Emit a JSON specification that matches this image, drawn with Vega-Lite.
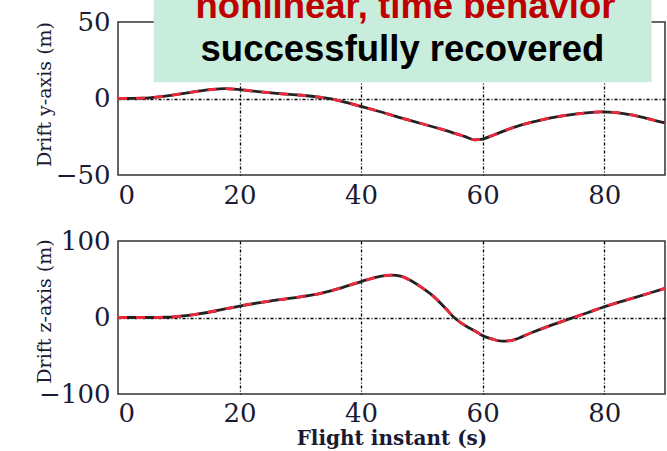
{
  "$schema": "https://vega.github.io/schema/vega-lite/v6.json",
  "background": "white",
  "padding": {"left": 34, "top": -13, "right": 2, "bottom": 0},
  "spacing": 66,
  "bounds": "flush",
  "datasets": {
    "ydrift": [
      {"t": 0, "v": 0}, {"t": 4, "v": 0.2}, {"t": 7, "v": 1.2}, {"t": 10, "v": 2.8}, {"t": 13, "v": 4.6},
      {"t": 15.5, "v": 5.9}, {"t": 17.5, "v": 6.4}, {"t": 20, "v": 5.8}, {"t": 23, "v": 4.5}, {"t": 27, "v": 3},
      {"t": 31, "v": 1.8}, {"t": 34, "v": 0.4}, {"t": 36, "v": -1}, {"t": 38, "v": -3}, {"t": 40, "v": -5.2},
      {"t": 43, "v": -8.5}, {"t": 46.4, "v": -12.5}, {"t": 50, "v": -16.5}, {"t": 54, "v": -21}, {"t": 57, "v": -24.8},
      {"t": 58.7, "v": -27}, {"t": 60, "v": -26.5}, {"t": 62, "v": -23.5}, {"t": 65, "v": -19}, {"t": 68.3, "v": -15.3},
      {"t": 71, "v": -12.8}, {"t": 74, "v": -10.8}, {"t": 77, "v": -9.4}, {"t": 79.5, "v": -8.7}, {"t": 82, "v": -9.2},
      {"t": 84.7, "v": -10.9}, {"t": 87, "v": -13}, {"t": 90, "v": -16}
    ],
    "zdrift": [
      {"t": 0, "v": 0}, {"t": 5, "v": 0}, {"t": 8, "v": 0.3}, {"t": 10.7, "v": 2}, {"t": 13, "v": 4.5},
      {"t": 16, "v": 8.5}, {"t": 20, "v": 15}, {"t": 25, "v": 21.5}, {"t": 30, "v": 27}, {"t": 33, "v": 31},
      {"t": 36, "v": 37}, {"t": 40, "v": 47}, {"t": 43, "v": 53.5}, {"t": 45, "v": 55.5}, {"t": 46.5, "v": 54},
      {"t": 48, "v": 49}, {"t": 50, "v": 39}, {"t": 52, "v": 27}, {"t": 54, "v": 11}, {"t": 55.3, "v": 0},
      {"t": 57, "v": -10}, {"t": 59, "v": -19}, {"t": 60, "v": -23.8}, {"t": 61.5, "v": -28}, {"t": 63.2, "v": -31},
      {"t": 65, "v": -29.5}, {"t": 68, "v": -20}, {"t": 71, "v": -11}, {"t": 74.4, "v": -1.5}, {"t": 77, "v": 5.5},
      {"t": 80, "v": 14}, {"t": 85, "v": 26}, {"t": 90, "v": 38}
    ],
    "box": [{"t": 5.87, "t2": 87.8, "v": 10.65, "v2": 72}],
    "notes": [
      {"t": 47.3, "v": 52.9, "label": "nonlinear, time behavior", "role": "highlight"},
      {"t": 46.8, "v": 24.2, "label": "successfully recovered", "role": "body"}
    ]
  },
  "config": {
    "view": {"stroke": "#333333", "strokeWidth": 1.5},
    "axis": {
      "labelFont": "DejaVu Serif", "labelFontSize": 26, "labelColor": "#1a1a33",
      "ticks": false, "domain": false,
      "gridColor": "#000000", "gridDash": [3, 2, 1, 2], "gridWidth": 1.3,
      "titleFont": "DejaVu Serif", "titleFontWeight": "normal", "titleColor": "#1a1a33"
    }
  },
  "vconcat": [
    {
      "width": 547, "height": 153,
      "encoding": {
        "x": {"field": "t", "type": "quantitative",
          "scale": {"domain": [0, 90], "nice": false},
          "axis": {"values": [0, 20, 40, 60, 80], "title": null, "labelPadding": 7,
            "gridOpacity": {"condition": {"test": "datum.value > 0", "value": 1}, "value": 0}}},
        "y": {"field": "v", "type": "quantitative",
          "scale": {"domain": [-50, 50], "nice": false},
          "axis": {"values": [-50, 0, 50], "title": "Drift y-axis (m)", "titleFontSize": 19,
            "titleX": -74, "titleY": 72, "titleBaseline": "middle", "labelPadding": 8,
            "gridOpacity": {"condition": {"test": "datum.value === 0", "value": 1}, "value": 0}}}
      },
      "layer": [
        {"data": {"name": "ydrift"}, "mark": {"type": "line", "color": "#222222", "strokeWidth": 2.8, "interpolate": "monotone"}},
        {"data": {"name": "ydrift"}, "mark": {"type": "line", "color": "#f0283c", "strokeWidth": 2.8, "strokeDash": [9, 9], "interpolate": "monotone"}},
        {"data": {"name": "box"}, "mark": {"type": "rect", "color": "#c9eddc", "opacity": 1},
          "encoding": {"x2": {"field": "t2"}, "y2": {"field": "v2"}}},
        {"data": {"name": "notes"},
          "mark": {"type": "text", "font": "Liberation Sans", "fontWeight": "bold", "fontSize": 36.5, "align": "center", "baseline": "alphabetic"},
          "encoding": {
            "text": {"field": "label"},
            "color": {"field": "role", "type": "nominal", "scale": {"domain": ["highlight", "body"], "range": ["#c00000", "#000000"]}, "legend": null}
          }}
      ]
    },
    {
      "width": 547, "height": 153,
      "data": {"name": "zdrift"},
      "encoding": {
        "x": {"field": "t", "type": "quantitative",
          "scale": {"domain": [0, 90], "nice": false},
          "axis": {"values": [0, 20, 40, 60, 80], "title": "Flight instant (s)", "titleFontSize": 20, "titleFontWeight": "bold",
            "labelPadding": 6, "titlePadding": 2,
            "gridOpacity": {"condition": {"test": "datum.value > 0", "value": 1}, "value": 0}}},
        "y": {"field": "v", "type": "quantitative",
          "scale": {"domain": [-100, 100], "nice": false},
          "axis": {"values": [-100, 0, 100], "title": "Drift z-axis (m)", "titleFontSize": 19,
            "titleX": -74, "titleY": 70, "titleBaseline": "middle", "labelPadding": 8,
            "gridOpacity": {"condition": {"test": "datum.value === 0", "value": 1}, "value": 0}}}
      },
      "layer": [
        {"mark": {"type": "line", "color": "#222222", "strokeWidth": 2.8, "interpolate": "monotone"}},
        {"mark": {"type": "line", "color": "#f0283c", "strokeWidth": 2.8, "strokeDash": [9, 9], "interpolate": "monotone"}}
      ]
    }
  ]
}
